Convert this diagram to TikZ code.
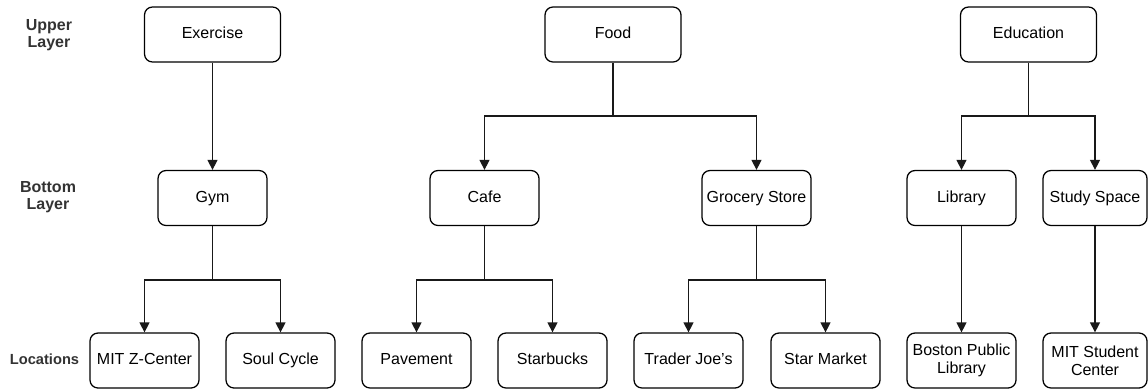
\documentclass[tikz,border=0pt]{standalone}
\usepackage{fontspec}
\setmainfont{Liberation Sans}
\usetikzlibrary{arrows.meta}
\begin{document}
\begin{tikzpicture}[x=0.75pt,y=-0.75pt]
\tikzstyle{boite2} = [draw, rounded corners=6pt, line width=0.95pt, minimum width=81.75pt, minimum height=41.25pt, inner sep=1.5pt, align=center, font=\fontsize{12}{13.5}\selectfont] %boite sur deux lignes
\tikzstyle{boite} = [boite2, text height=1.6ex, text depth=0.45ex] %boite de base
\tikzstyle{grande} = [boite, minimum width=102pt]
\tikzstyle{trait} = [line width=0.95pt, black!90]
\tikzstyle{fleche} = [trait, -{Triangle[length=7.5pt,width=7.5pt]}]
\tikzstyle{niveau} = [align=center, text=black!80, font=\bfseries\fontsize{12}{13}\selectfont]

\useasboundingbox (0,0) rectangle (1148,389);

%noms des couches
\node[niveau] (up) at (49,35) {Upper\\Layer};
\node[niveau] (bot) at (48,197) {Bottom\\Layer};
\node[niveau, font=\bfseries\fontsize{11}{12}\selectfont] (loc) at (44.5,359) {Locations};

%couche du haut
\node[grande] (ex) at (212.5,34.5) {Exercise};
\node[grande] (food) at (613,34.5) {Food};
\node[grande] (edu) at (1028.5,34.5) {Education};

%couche du bas
\node[boite] (gym) at (212.5,198) {Gym};
\node[boite] (cafe) at (484.5,198) {Cafe};
\node[boite] (groc) at (756.5,198) {Grocery Store};
\node[boite] (lib) at (961.5,198) {Library};
\node[boite, minimum width=78pt] (study) at (1095,198) {Study Space};

%lieux
\node[boite] (mzc) at (144.5,360.5) {MIT Z-Center};
\node[boite] (soul) at (280.5,360.5) {Soul Cycle};
\node[boite] (pav) at (416.5,360.5) {Pavement};
\node[boite] (sbx) at (552.5,360.5) {Starbucks};
\node[boite] (tj) at (688.5,360.5) {Trader Joe's};
\node[boite] (sm) at (825.5,360.5) {Star Market};
\node[boite2] (bpl) at (961.5,360.5) {Boston Public\\Library};
\node[boite2, minimum width=78pt] (msc) at (1095,360.5) {MIT Student\\Center};

%points de branchement
\coordinate (foodj) at (613,116);
\coordinate (eduj) at (1028.5,116);
\coordinate (gymj) at (212.5,280);
\coordinate (cafej) at (484.5,280);
\coordinate (grocj) at (756.5,280);

%fleches
\draw[fleche] (ex.south)--(gym.north);
\draw[trait] (food.south)--(foodj);
\draw[fleche] (foodj)-|(cafe.north);
\draw[fleche] (foodj)-|(groc.north);
\draw[trait] (edu.south)--(eduj);
\draw[fleche] (eduj)-|(lib.north);
\draw[fleche] (eduj)-|(study.north);

\draw[trait] (gym.south)--(gymj);
\draw[fleche] (gymj)-|(mzc.north);
\draw[fleche] (gymj)-|(soul.north);
\draw[trait] (cafe.south)--(cafej);
\draw[fleche] (cafej)-|(pav.north);
\draw[fleche] (cafej)-|(sbx.north);
\draw[trait] (groc.south)--(grocj);
\draw[fleche] (grocj)-|(tj.north);
\draw[fleche] (grocj)-|(sm.north);
\draw[fleche] (lib.south)--(bpl.north);
\draw[fleche] (study.south)--(msc.north);
\end{tikzpicture}
\end{document}
